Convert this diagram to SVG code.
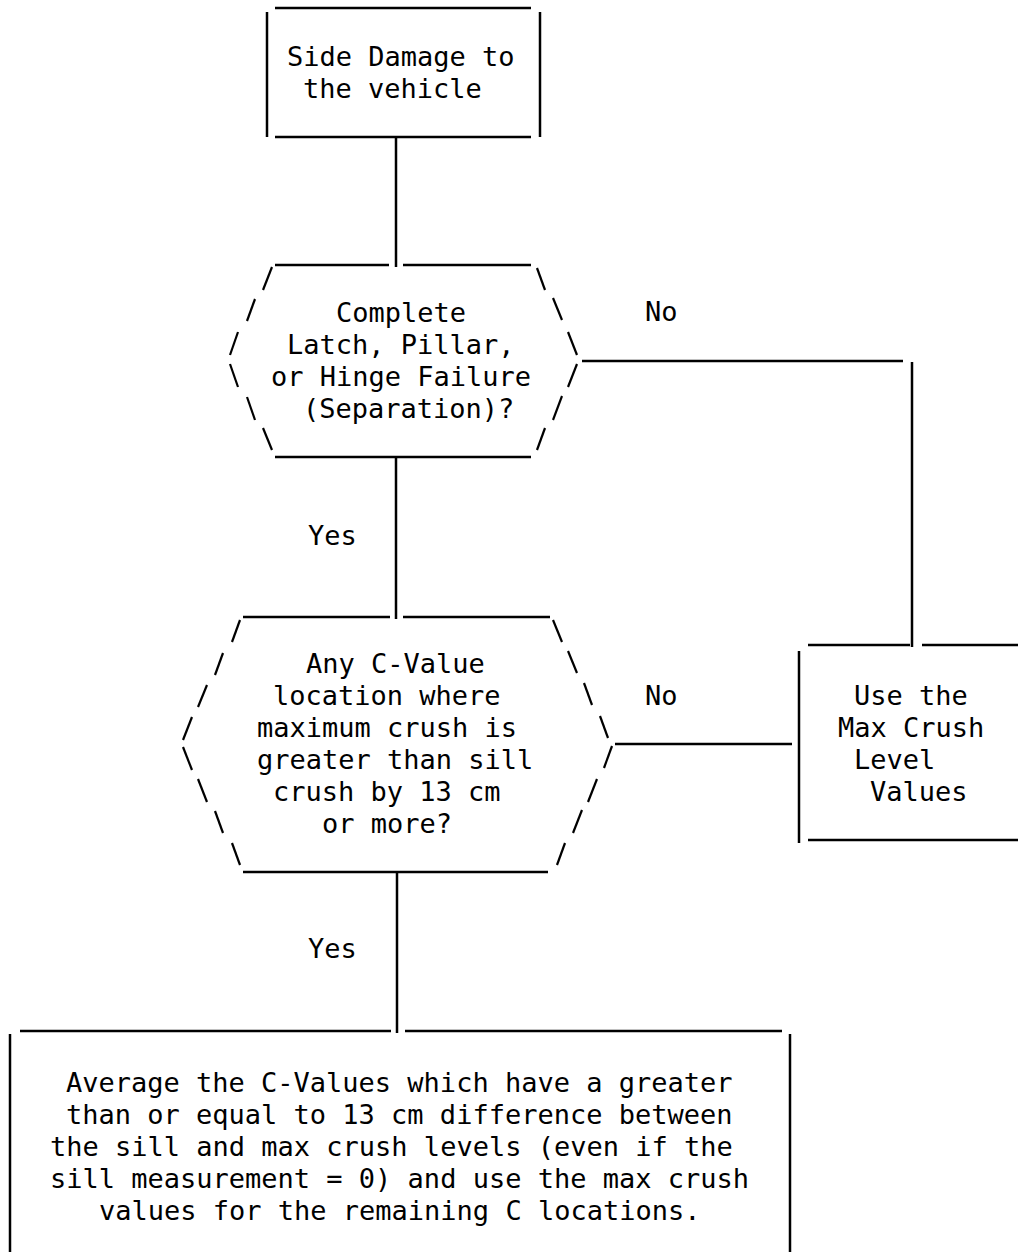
<svg xmlns="http://www.w3.org/2000/svg" width="1025" height="1252" viewBox="0 0 1025 1252">
<style>
.ln{stroke:#000;stroke-width:2.5;fill:none;stroke-linecap:butt}
.sl{stroke:#000;stroke-width:2.2;fill:none}
.t{font-family:"DejaVu Sans Mono","Liberation Mono",monospace;font-size:27px;fill:#000}
</style>
<rect x="0" y="0" width="1025" height="1252" fill="#fff"/>
<g id="connectors">
<line class="ln" x1="396" y1="137" x2="396" y2="267"/>
<line class="ln" x1="396" y1="457" x2="396" y2="619"/>
<line class="ln" x1="582" y1="361" x2="903" y2="361"/>
<line class="ln" x1="912" y1="362" x2="912" y2="647"/>
<line class="ln" x1="615" y1="744" x2="792" y2="744"/>
<line class="ln" x1="397" y1="872" x2="397" y2="1033"/>
</g>
<g id="node-side-damage">
<line class="ln" x1="275" y1="8" x2="531" y2="8"/>
<line class="ln" x1="267" y1="12" x2="267" y2="137"/>
<line class="ln" x1="540" y1="12" x2="540" y2="137"/>
<line class="ln" x1="275" y1="137" x2="531" y2="137"/>
<text class="t" x="287" y="66">Side Damage to</text>
<text class="t" x="303" y="98">the vehicle</text>
</g>
<g id="node-separation">
<line class="ln" x1="275" y1="265" x2="389" y2="265"/>
<line class="ln" x1="403" y1="265" x2="531" y2="265"/>
<line class="ln" x1="275" y1="457" x2="531" y2="457"/>
<line class="sl" x1="272" y1="267" x2="263" y2="290"/>
<line class="sl" x1="255" y1="299" x2="247" y2="321"/>
<line class="sl" x1="238" y1="332" x2="230" y2="355"/>
<line class="sl" x1="230" y1="364" x2="238" y2="387"/>
<line class="sl" x1="247" y1="397" x2="255" y2="420"/>
<line class="sl" x1="263" y1="428" x2="272" y2="450"/>
<line class="sl" x1="537" y1="268" x2="545" y2="290"/>
<line class="sl" x1="553" y1="298" x2="562" y2="320"/>
<line class="sl" x1="568" y1="332" x2="577" y2="355"/>
<line class="sl" x1="577" y1="364" x2="568" y2="387"/>
<line class="sl" x1="562" y1="396" x2="553" y2="420"/>
<line class="sl" x1="545" y1="428" x2="537" y2="450"/>
<text class="t" x="336" y="322">Complete</text>
<text class="t" x="287" y="354">Latch, Pillar,</text>
<text class="t" x="271" y="386">or Hinge Failure</text>
<text class="t" x="303" y="418">(Separation)?</text>
</g>
<g id="node-cvalue">
<line class="ln" x1="243" y1="617" x2="390" y2="617"/>
<line class="ln" x1="403" y1="617" x2="550" y2="617"/>
<line class="ln" x1="243" y1="872" x2="548" y2="872"/>
<line class="sl" x1="240" y1="620" x2="232" y2="642"/>
<line class="sl" x1="223" y1="653" x2="215" y2="675"/>
<line class="sl" x1="207" y1="685" x2="198" y2="707"/>
<line class="sl" x1="192" y1="717" x2="183" y2="740"/>
<line class="sl" x1="183" y1="747" x2="192" y2="770"/>
<line class="sl" x1="198" y1="779" x2="207" y2="802"/>
<line class="sl" x1="215" y1="811" x2="223" y2="833"/>
<line class="sl" x1="232" y1="843" x2="240" y2="865"/>
<line class="sl" x1="553" y1="620" x2="562" y2="642"/>
<line class="sl" x1="568" y1="651" x2="577" y2="673"/>
<line class="sl" x1="584" y1="683" x2="592" y2="705"/>
<line class="sl" x1="600" y1="716" x2="608" y2="738"/>
<line class="sl" x1="612" y1="746" x2="604" y2="768"/>
<line class="sl" x1="597" y1="779" x2="588" y2="802"/>
<line class="sl" x1="582" y1="810" x2="573" y2="833"/>
<line class="sl" x1="565" y1="843" x2="557" y2="865"/>
<text class="t" x="306" y="673">Any C-Value</text>
<text class="t" x="273" y="705">location where</text>
<text class="t" x="257" y="737">maximum crush is</text>
<text class="t" x="257" y="769">greater than sill</text>
<text class="t" x="273" y="801">crush by 13 cm</text>
<text class="t" x="322" y="833">or more?</text>
</g>
<g id="node-max-crush">
<line class="ln" x1="808" y1="645" x2="910" y2="645"/>
<line class="ln" x1="922" y1="645" x2="1018" y2="645"/>
<line class="ln" x1="799" y1="651" x2="799" y2="843"/>
<line class="ln" x1="808" y1="840" x2="1018" y2="840"/>
<text class="t" x="854" y="705">Use the</text>
<text class="t" x="838" y="737">Max Crush</text>
<text class="t" x="854" y="769">Level</text>
<text class="t" x="870" y="801">Values</text>
</g>
<g id="node-average">
<line class="ln" x1="20" y1="1031" x2="391" y2="1031"/>
<line class="ln" x1="405" y1="1031" x2="782" y2="1031"/>
<line class="ln" x1="10" y1="1034" x2="10" y2="1252"/>
<line class="ln" x1="790" y1="1034" x2="790" y2="1252"/>
<text class="t" x="66" y="1092">Average the C-Values which have a greater</text>
<text class="t" x="66" y="1124">than or equal to 13 cm difference between</text>
<text class="t" x="50" y="1156">the sill and max crush levels (even if the</text>
<text class="t" x="50" y="1188">sill measurement = 0) and use the max crush</text>
<text class="t" x="99" y="1220">values for the remaining C locations.</text>
</g>
<g id="labels">
<text class="t" x="645" y="321">No</text>
<text class="t" x="645" y="705">No</text>
<text class="t" x="308" y="545">Yes</text>
<text class="t" x="308" y="958">Yes</text>
</g>
</svg>
